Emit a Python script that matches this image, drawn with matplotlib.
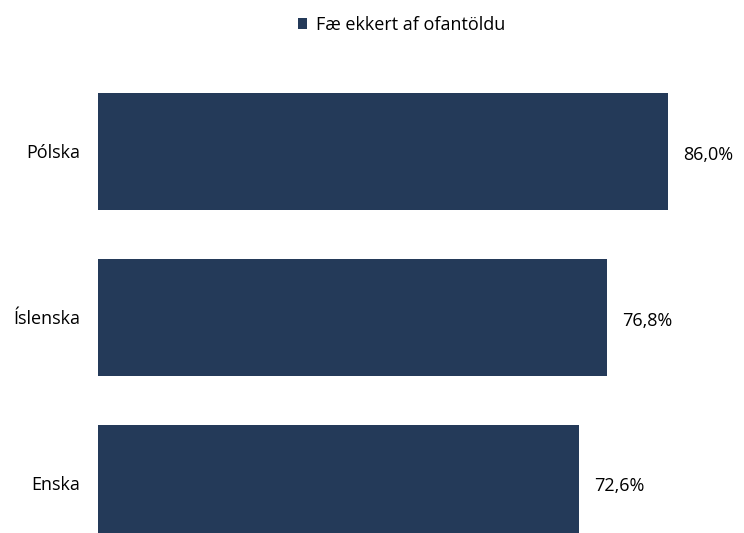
import matplotlib.pyplot as plt
from matplotlib.patches import Patch

# Chart data
languages = ["Pólska", "Íslenska", "Enska"]
shares = [86.0, 76.8, 72.6]
series_name = "Fæ ekkert af ofantöldu"

BAR_COLOR = "#243A59"
plt.rcParams["font.family"] = ["Open Sans", "DejaVu Sans"]

fig = plt.figure(figsize=(7.44, 5.33), dpi=100)
ax = fig.add_axes([0.1317, -0.062, 0.858, 0.9335])

positions = list(range(len(languages)))
ax.barh(positions, shares, height=0.705, color=BAR_COLOR)
ax.set_ylim(len(languages) - 0.5, -0.5)
ax.set_xlim(0, 96.3)

# Value labels to the right of each bar
for pos, val in zip(positions, shares):
    label = f"{val:.1f}%".replace(".", ",")
    ax.text(val + 2.3, pos + 0.02, label, va="center", ha="left", fontsize=13, color="#000000")

ax.set_yticks(positions)
ax.set_yticklabels(languages, fontsize=13)
ax.tick_params(axis="y", length=0, pad=13)
ax.set_xticks([])

for side in ["top", "right", "bottom", "left"]:
    ax.spines[side].set_visible(False)

handle = Patch(facecolor=BAR_COLOR, edgecolor="none")
fig.legend(handles=[handle], labels=[series_name], loc="center",
           bbox_to_anchor=(0.54, 1 - 25 / 533), frameon=False,
           fontsize=13, handlelength=0.5, handleheight=0.5, handletextpad=0.5)

fig.savefig("out.png", dpi=100)
